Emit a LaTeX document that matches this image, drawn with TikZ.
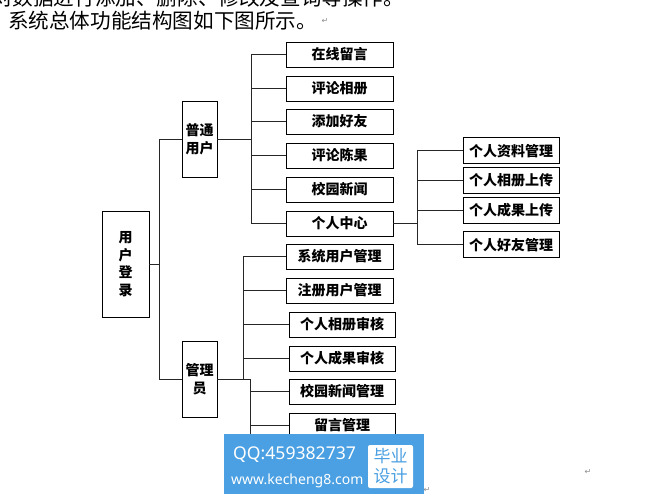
\documentclass[tikz,border=0pt]{standalone}
\usepackage{fontspec}
\setmainfont{Noto Sans CJK SC}
\newfontfamily\markfont{DejaVu Sans}
\newfontfamily\wmfont{Noto Sans}
\usetikzlibrary{positioning}
\definecolor{wmblue}{RGB}{74,160,226}
\tikzset{
  box/.style={draw,line width=0.8pt,inner sep=0,minimum height=25pt,
    font=\fontsize{14}{17.5}\selectfont\bfseries},
  vbox/.style={box,minimum width=35pt,minimum height=76pt,align=center},
  wide/.style={box,minimum width=107pt},
  sub/.style={box,minimum width=96pt,minimum height=26pt},
  link/.style={line width=0.8pt,black!85},
  para/.style={anchor=west,inner sep=0,font=\fontsize{20.6}{24}\selectfont},
  ret/.style={inner sep=0,text=black!45,font=\markfont\fontsize{8}{8}\selectfont}
}

\begin{document}
\begin{tikzpicture}[x=1pt,y=-1pt]
\useasboundingbox (0,0) rectangle (648,500);
\clip (0,0) rectangle (648,500);

\node[para] (l1) at (-8,-2) {对数据进行添加、删除、修改及查询等操作。};
\node[ret,right=3pt of l1] {↵};
\node[para] (l2) at (8,21) {系统总体功能结构图如下图所示。};
\node[ret,right=4pt of l2] {↵};

\node[box,minimum width=47pt,minimum height=106pt,align=center] (login) at (125.5,264) {用\\户\\登\\录};
\node[vbox] (user) at (199.5,139) {普通\\用户};
\node[vbox] (admin) at (199.5,379) {管理\\员};

\node[wide] (u1) at (339.5,54.5) {在线留言};
\node[wide] (u2) at (339.5,88.5) {评论相册};
\node[wide] (u3) at (339.5,121.5) {添加好友};
\node[wide] (u4) at (339.5,155.5) {评论陈果};
\node[wide] (u5) at (339.5,189.5) {校园新闻};
\node[wide] (u6) at (339.5,223.5) {个人中心};

\node[sub] (p1) at (511,150.7) {个人资料管理};
\node[sub] (p2) at (511,180.5) {个人相册上传};
\node[sub] (p3) at (511,210.5) {个人成果上传};
\node[sub] (p4) at (511,244.7) {个人好友管理};

\node[wide] (a1) at (339.5,256.5) {系统用户管理};
\node[wide] (a2) at (339.5,290.5) {注册用户管理};
\node[box,minimum width=106pt] (a3) at (342,324.5) {个人相册审核};
\node[box,minimum width=106pt] (a4) at (342,358.5) {个人成果审核};
\node[box,minimum width=106pt] (a5) at (342,391.5) {校园新闻管理};
\node[box,minimum width=106pt] (a6) at (342,425.5) {留言管理};

\coordinate (j0) at (159,0);
\coordinate (j1) at (251,0);
\coordinate (j2) at (417,0);
\coordinate (j3) at (243,0);
\coordinate (j4) at (250,0);
\coordinate (jend) at (250,450);

\draw[link] (login.east) -- (login.east -| j0);
\draw[link] (user.west) -| (j0 |- admin.west) -- (admin.west);

\draw[link] (user.east) -- (user.east -| j1);
\draw[link] (j1 |- u1.west) -- (j1 |- u6.west);
\foreach \i in {1,...,6}
  \draw[link] (j1 |- u\i.west) -- (u\i.west);

\draw[link] (u6.east) -- (u6.east -| j2);
\draw[link] (j2 |- p1.west) -- (j2 |- p4.west);
\foreach \i in {1,...,4}
  \draw[link] (j2 |- p\i.west) -- (p\i.west);

\draw[link] (admin.east) -- (admin.east -| j4);
\draw[link] (j3 |- a1.west) -- (j3 |- admin.east);
\draw[link] (j4 |- admin.east) -- (jend);
\foreach \i in {1,...,4}
  \draw[link] (j3 |- a\i.west) -- (a\i.west);
\foreach \i in {5,6}
  \draw[link] (j4 |- a\i.west) -- (a\i.west);

\node[ret] at (588,472) {↵};
\node[ret] at (427,490) {↵};

\node[fill=wmblue,minimum width=200pt,minimum height=60pt,inner sep=0] (wm) at (324,464) {};
\node[anchor=west,inner sep=0,text=white,font=\wmfont\fontsize{17.6}{18}\selectfont] (qq) at (233,455) {QQ:459382737};
\node[anchor=west,inner sep=0,text=white,font=\wmfont\fontsize{14}{14}\selectfont\bfseries] (web) at (231,481) {www.kecheng8.com};
\node[fill=white,rounded corners=2pt,minimum width=45pt,minimum height=43pt,inner sep=0,
  text=wmblue,align=center,font=\fontsize{17}{20}\selectfont] (by) at (390.5,466.5) {毕业\\设计};
\end{tikzpicture}
\end{document}
